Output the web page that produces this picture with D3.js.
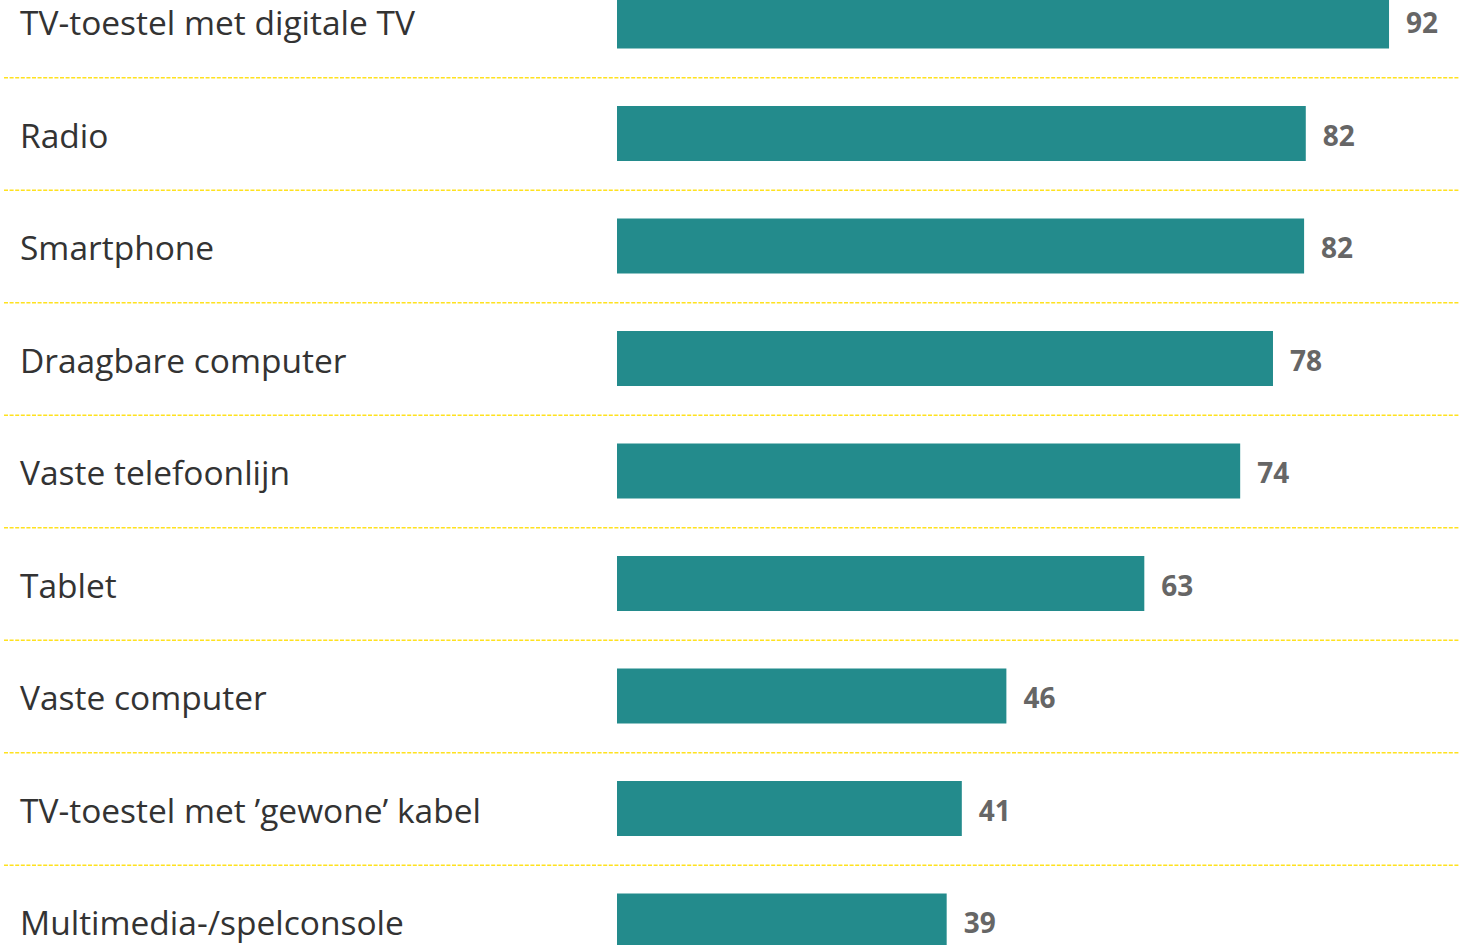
<!DOCTYPE html>
<html>
<head>
<meta charset="utf-8">
<script src="https://d3js.org/d3.v7.min.js"></script>
<style>
  html, body { margin: 0; padding: 0; background: #fff; overflow: hidden; }
  svg { display: block; }
</style>
</head>
<body>
<svg id="chart" width="1460" height="945"></svg>
<script>
const categories = [
  "TV-toestel met digitale TV",
  "Radio",
  "Smartphone",
  "Draagbare computer",
  "Vaste telefoonlijn",
  "Tablet",
  "Vaste computer",
  "TV-toestel met \u2019gewone\u2019 kabel",
  "Multimedia-/spelconsole"
];
const values = [91.8, 81.9, 81.7, 78.0, 74.1, 62.7, 46.3, 41.0, 39.2];

const svg = d3.select("#chart");
const W = 1460;

const x = d3.scaleLinear().domain([0, 100]).range([617, 617 + 841]);
const step = 112.5;
const pad = (step - 55) / step;
const y = d3.scaleBand()
  .domain(categories)
  .range([21 - step / 2, 21 - step / 2 + step * categories.length])
  .paddingInner(pad)
  .paddingOuter(pad / 2);

// separators
const seps = categories.slice(0, -1);
svg.append("g").selectAll("line").data(seps).join("line")
  .attr("x1", 4).attr("x2", W)
  .attr("y1", d => y(d) - y.step() * pad / 2 + y.step() + 0.5)
  .attr("y2", d => y(d) - y.step() * pad / 2 + y.step() + 0.5)
  .attr("stroke", "#ffe21f")
  .attr("stroke-width", 1.3)
  .attr("stroke-dasharray", "4,1.6");

// bars
svg.append("g").selectAll("rect").data(categories).join("rect")
  .attr("x", x(0))
  .attr("y", d => y(d))
  .attr("width", (d, i) => x(values[i]) - x(0))
  .attr("height", y.bandwidth())
  .attr("fill", "#238b8c");

// category labels
svg.append("g").selectAll("text").data(categories).join("text")
  .attr("x", 20)
  .attr("y", d => y(d) + y.bandwidth() / 2)
  .attr("dy", "0.42em")
  .attr("font-family", "'Open Sans', sans-serif")
  .attr("font-size", 33.5)
  .attr("fill", "#333333")
  .text(d => d);

// value labels
svg.append("g").selectAll("text").data(categories).join("text")
  .attr("x", (d, i) => x(values[i]) + 17)
  .attr("y", d => y(d) + y.bandwidth() / 2)
  .attr("dy", "0.43em")
  .attr("font-family", "'Open Sans', sans-serif")
  .attr("font-weight", "bold")
  .attr("font-size", 28)
  .attr("fill", "#666666")
  .text((d, i) => Math.round(values[i]));
</script>
</body>
</html>
